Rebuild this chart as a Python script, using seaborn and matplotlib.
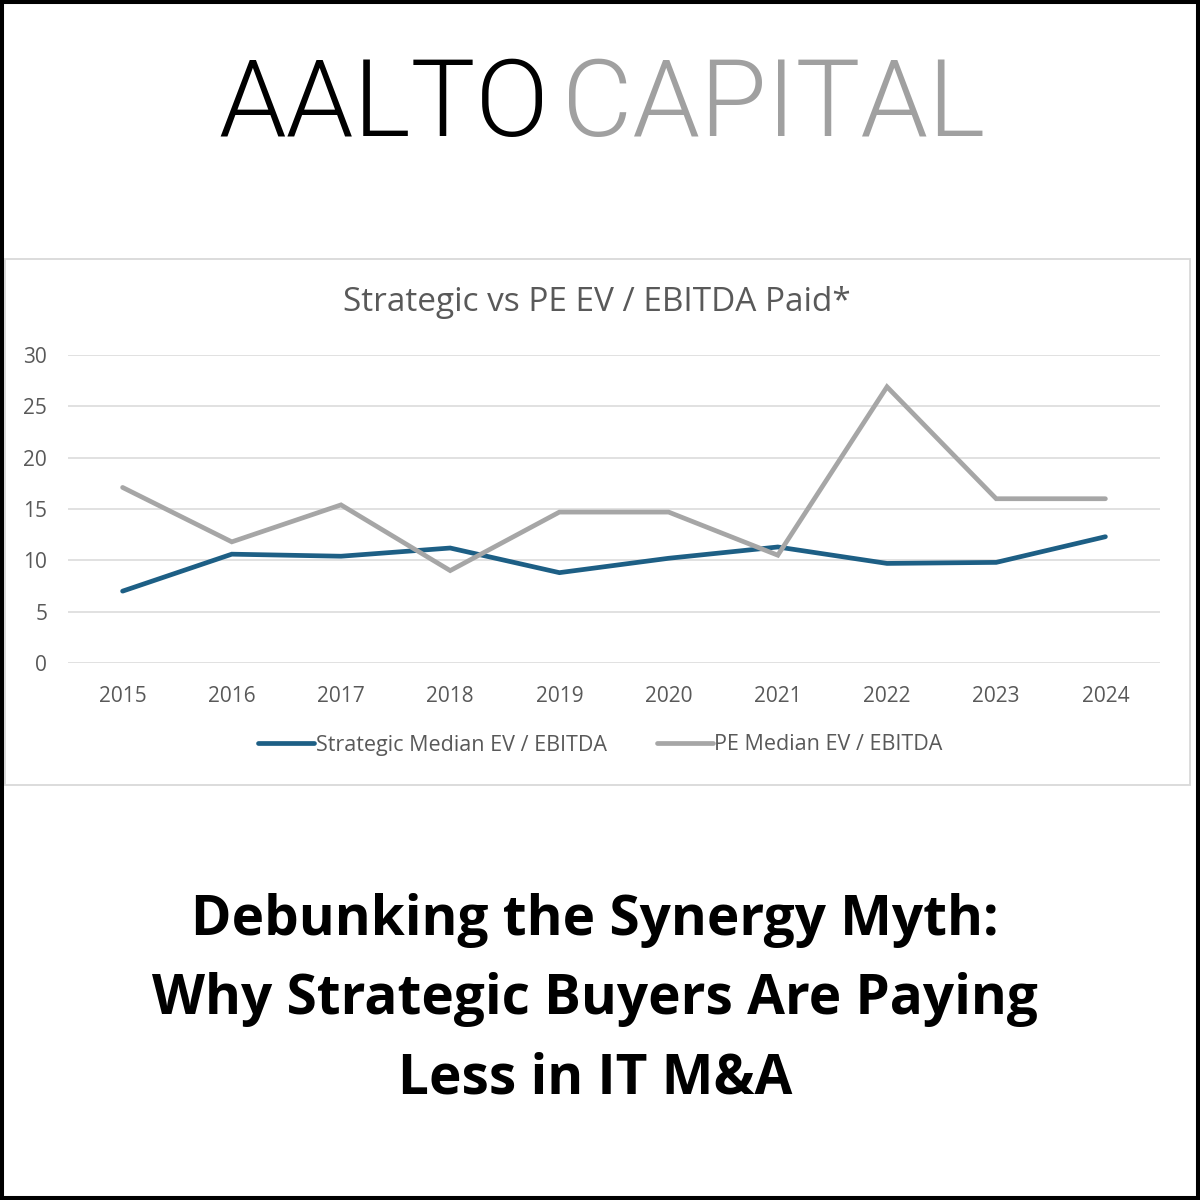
import pandas as pd
import matplotlib
matplotlib.use("Agg")
import matplotlib.pyplot as plt
import seaborn as sns
from matplotlib.patches import Rectangle

# dati
anni = ['2015', '2016', '2017', '2018', '2019', '2020', '2021', '2022', '2023', '2024']
strategic = [7.0, 10.6, 10.4, 11.2, 8.8, 10.2, 11.3, 9.7, 9.8, 12.3]
pe = [17.1, 11.8, 15.4, 9.0, 14.7, 14.7, 10.5, 26.9, 16.0, 16.0]
serie = ['Strategic Median EV / EBITDA', 'PE Median EV / EBITDA']
colori = ['#1d5f85', '#a6a6a6']

df = pd.DataFrame({
    'anno': anni * 2,
    'valore': strategic + pe,
    'serie': [serie[0]] * len(anni) + [serie[1]] * len(anni),
})

sns.set_style("white")
plt.rcParams['font.family'] = ['Open Sans', 'DejaVu Sans']

fig = plt.figure(figsize=(12, 12), dpi=100)

def py(p):
    # pixel dall'alto -> coordinata figura
    return 1 - p / 1200

# cornice nera esterna e riquadro del grafico
fig.patches.append(Rectangle((0, 0), 1, 1, transform=fig.transFigure, fill=False,
                             edgecolor='black', linewidth=5.8, zorder=10))
fig.patches.append(Rectangle((5 / 1200, py(785)), 1185 / 1200, 526 / 1200,
                             transform=fig.transFigure, fill=False,
                             edgecolor='#d9d9d9', linewidth=1.3))

# logo
fig.text(218 / 1200, py(136), 'AALTO', fontsize=78, color='black', fontweight=300,
         family=['Roboto', 'DejaVu Sans'], ha='left', va='baseline')
fig.text(985 / 1200, py(136), 'CAPITAL', fontsize=78, color='#a0a0a0', fontweight=300,
         family=['Roboto', 'DejaVu Sans'], ha='right', va='baseline')

ax = fig.add_axes([68 / 1200, py(663), 1092 / 1200, 308 / 1200])
sns.lineplot(data=df, x='anno', y='valore', hue='serie', palette=colori,
             linewidth=3.4, sort=False, ax=ax, legend=True)
for l in ax.lines:
    l.set_solid_capstyle('round')
    l.set_solid_joinstyle('miter')

ax.set_xlim(-0.5, len(anni) - 0.5)
ax.set_ylim(0, 30)
ax.set_yticks([0, 5, 10, 15, 20, 25, 30])
ax.set_xlabel('')
ax.set_ylabel('')
ax.grid(axis='y', color='#d9d9d9', linewidth=1.1)
ax.grid(axis='x', visible=False)
ax.set_axisbelow(True)
for s in ax.spines.values():
    s.set_visible(False)
ax.tick_params(axis='both', length=0, labelsize=15, labelcolor='#595959')
ax.tick_params(axis='y', pad=15)
ax.tick_params(axis='x', pad=16.5)

fig.text(0.497, py(311), 'Strategic vs PE EV / EBITDA Paid*', fontsize=24,
         color='#595959', ha='center', va='baseline')

ax.legend(loc='center', bbox_to_anchor=((600.5 - 68) / 1092, 1 - (745 - 355) / 308), ncol=2,
          frameon=False, fontsize=15.5, handlelength=2.6, handletextpad=0.08,
          columnspacing=2.3, labelcolor='#595959')

righe = ['Debunking the Synergy Myth:', 'Why Strategic Buyers Are Paying', 'Less in IT M&A']
basi = [935, 1014, 1093]
for riga, b in zip(righe, basi):
    fig.text(0.496, py(b), riga, fontsize=39.5, fontweight='bold',
             color='black', ha='center', va='baseline')

plt.savefig('out.png', dpi=100)
